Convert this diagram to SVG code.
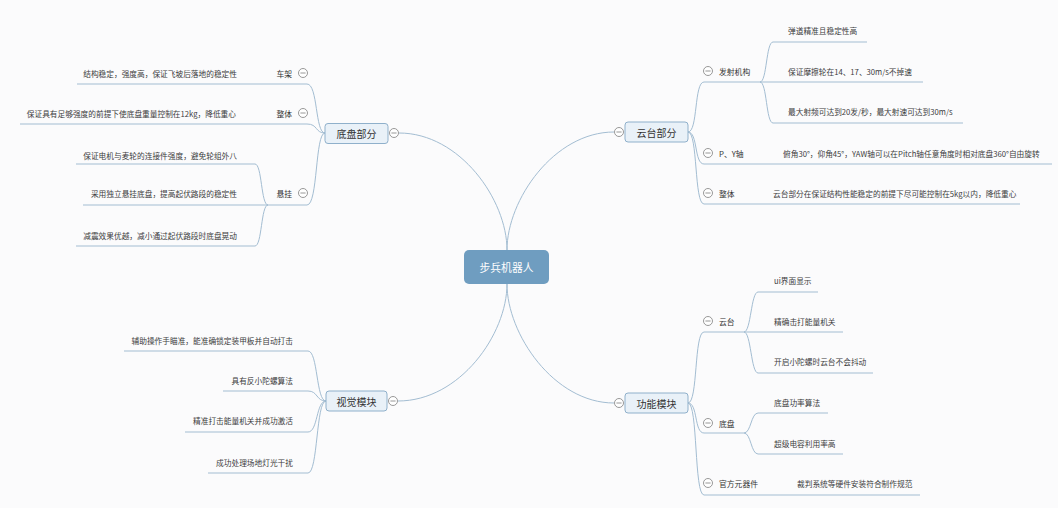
<svg xmlns="http://www.w3.org/2000/svg" xmlns:xlink="http://www.w3.org/1999/xlink" width="1058" height="508" viewBox="0 0 1058 508">
  <style>
    .ln { fill: none; stroke: #a3bdd2; stroke-width: 1; }
    .t { font-family: "Noto Sans CJK SC", "Noto Sans", sans-serif; font-size: 7.7px; fill: #3c3c3c; dominant-baseline: central; }
    .sub { font-size: 7.8px; fill: #333; }
    .end { text-anchor: end; }
    .main { font-size: 10px; text-anchor: middle; fill: #333; }
    .root { font-size: 10.8px; text-anchor: middle; fill: #ffffff; }
    .box { fill: #e9f1f8; stroke: #8fb0cb; stroke-width: 1; }
    .rootbox { fill: #6f9dc0; }
    .fold-c { fill: #ffffff; stroke: #8c8c8c; stroke-width: 0.9; }
    .fold-m { stroke: #8c8c8c; stroke-width: 0.9; }
  </style>
  <defs>
    <g id="fold">
      <circle class="fold-c" cx="0" cy="0" r="4.5"/>
      <line class="fold-m" x1="-2.6" y1="0" x2="2.6" y2="0"/>
    </g>
  </defs>

  <rect x="0" y="0" width="1058" height="508" fill="#fbfbfc"/>

  <!-- connectors -->
  <g id="connectors">
    <!-- root to main topics -->
    <path class="ln" d="M 507 250 C 507 200, 460 133, 399 133"/>
    <path class="ln" d="M 507 250 C 507 200, 554 132, 614 132"/>
    <path class="ln" d="M 507 284 C 507 334, 460 401, 398 401"/>
    <path class="ln" d="M 507 284 C 507 334, 554 403, 614 403"/>

    <!-- 底盘部分 branches -->
    <path class="ln" d="M 325 133 C 315 133, 318 84, 307 84 H 77"/>
    <path class="ln" d="M 325 133 C 315 133, 318 124, 307 124 H 20"/>
    <path class="ln" d="M 325 133 C 315 133, 318 205, 307 205 H 83"/>
    <path class="ln" d="M 268 205 C 261 205, 262 164, 255 164 H 76"/>
    <path class="ln" d="M 268 205 C 261 205, 262 246, 255 246 H 76"/>

    <!-- 云台部分 branches -->
    <path class="ln" d="M 688 132 C 698 132, 694 82, 704 82 H 760"/>
    <path class="ln" d="M 760 82 C 767 82, 766 42, 773 42 H 867"/>
    <path class="ln" d="M 760 82 H 923"/>
    <path class="ln" d="M 760 82 C 767 82, 766 123, 773 123 H 963"/>
    <path class="ln" d="M 688 132 C 698 132, 694 164, 704 164 H 1052"/>
    <path class="ln" d="M 688 132 C 698 132, 694 204, 704 204 H 1020"/>

    <!-- 视觉模块 branches -->
    <path class="ln" d="M 326 401 C 316 401, 318 351, 308 351 H 124"/>
    <path class="ln" d="M 326 401 C 316 401, 318 391, 308 391 H 223"/>
    <path class="ln" d="M 326 401 C 316 401, 318 432, 308 432 H 185"/>
    <path class="ln" d="M 326 401 C 316 401, 318 473, 308 473 H 208"/>

    <!-- 功能模块 branches -->
    <path class="ln" d="M 688 403 C 698 403, 694 332, 704 332 H 744"/>
    <path class="ln" d="M 744 332 C 751 332, 751 292, 758 292 H 818"/>
    <path class="ln" d="M 744 332 H 843"/>
    <path class="ln" d="M 744 332 C 751 332, 751 373, 758 373 H 873"/>
    <path class="ln" d="M 688 403 C 698 403, 694 433, 704 433 H 744"/>
    <path class="ln" d="M 744 433 C 751 433, 751 413, 758 413 H 828"/>
    <path class="ln" d="M 744 433 C 751 433, 751 454, 758 454 H 843"/>
    <path class="ln" d="M 688 403 C 698 403, 694 495, 704 495 H 920"/>
  </g>

  <!-- root -->
  <g id="root">
    <rect class="rootbox" x="464" y="250" width="85" height="34" rx="5"/>
    <text class="t root" x="506.5" y="267">步兵机器人</text>
  </g>

  <!-- 底盘部分 -->
  <g id="chassis">
    <rect class="box" x="325" y="123.5" width="63" height="20" rx="3"/>
    <text class="t main" x="356.5" y="133.5">底盘部分</text>
    <use xlink:href="#fold" x="394" y="133"/>
  </g>
  <g id="chassis-frame">
    <text class="t sub end" x="292" y="73">车架</text>
    <use xlink:href="#fold" x="303" y="73"/>
    <text class="t end" x="237" y="73">结构稳定，强度高，保证飞坡后落地的稳定性</text>
  </g>
  <g id="chassis-whole">
    <text class="t sub end" x="292" y="113">整体</text>
    <use xlink:href="#fold" x="303" y="113"/>
    <text class="t end" x="236" y="113">保证具有足够强度的前提下使底盘重量控制在12kg，降低重心</text>
  </g>
  <g id="chassis-suspension">
    <text class="t sub end" x="292" y="193">悬挂</text>
    <use xlink:href="#fold" x="303" y="193"/>
    <text class="t end" x="237" y="155">保证电机与麦轮的连接件强度，避免轮组外八</text>
    <text class="t end" x="237" y="193">采用独立悬挂底盘，提高起伏路段的稳定性</text>
    <text class="t end" x="237" y="235">减震效果优越，减小通过起伏路段时底盘晃动</text>
  </g>

  <!-- 云台部分 -->
  <g id="gimbal">
    <rect class="box" x="625" y="122" width="63" height="20" rx="3"/>
    <text class="t main" x="656.5" y="132">云台部分</text>
    <use xlink:href="#fold" x="619" y="132"/>
  </g>
  <g id="gimbal-shooter">
    <use xlink:href="#fold" x="708" y="71"/>
    <text class="t sub" x="719" y="71">发射机构</text>
    <text class="t" x="788" y="30">弹道精准且稳定性高</text>
    <text class="t" x="788" y="71">保证摩擦轮在14、17、30m/s不掉速</text>
    <text class="t" x="788" y="111">最大射频可达到20发/秒，最大射速可达到30m/s</text>
  </g>
  <g id="gimbal-axes">
    <use xlink:href="#fold" x="708" y="153"/>
    <text class="t sub" x="719" y="153">P、Y轴</text>
    <text class="t" x="783" y="153">俯角30°，仰角45°，YAW轴可以在Pitch轴任意角度时相对底盘360°自由旋转</text>
  </g>
  <g id="gimbal-whole">
    <use xlink:href="#fold" x="708" y="193"/>
    <text class="t sub" x="719" y="193">整体</text>
    <text class="t" x="773" y="193">云台部分在保证结构性能稳定的前提下尽可能控制在5kg以内，降低重心</text>
  </g>

  <!-- 视觉模块 -->
  <g id="vision">
    <rect class="box" x="326" y="391" width="61" height="20" rx="3"/>
    <text class="t main" x="356.5" y="401">视觉模块</text>
    <use xlink:href="#fold" x="393" y="401"/>
    <text class="t end" x="293" y="340">辅助操作手瞄准，能准确锁定装甲板并自动打击</text>
    <text class="t end" x="293" y="380">具有反小陀螺算法</text>
    <text class="t end" x="293" y="420">精准打击能量机关并成功激活</text>
    <text class="t end" x="293" y="462">成功处理场地灯光干扰</text>
  </g>

  <!-- 功能模块 -->
  <g id="function">
    <rect class="box" x="625" y="393" width="63" height="20" rx="3"/>
    <text class="t main" x="656.5" y="403">功能模块</text>
    <use xlink:href="#fold" x="619" y="403"/>
  </g>
  <g id="function-gimbal">
    <use xlink:href="#fold" x="708" y="321"/>
    <text class="t sub" x="719" y="321">云台</text>
    <text class="t" x="774" y="280">ui界面显示</text>
    <text class="t" x="774" y="321">精确击打能量机关</text>
    <text class="t" x="774" y="361">开启小陀螺时云台不会抖动</text>
  </g>
  <g id="function-chassis">
    <use xlink:href="#fold" x="708" y="423"/>
    <text class="t sub" x="719" y="423">底盘</text>
    <text class="t" x="774" y="402">底盘功率算法</text>
    <text class="t" x="774" y="443">超级电容利用率高</text>
  </g>
  <g id="function-official">
    <use xlink:href="#fold" x="708" y="483"/>
    <text class="t sub" x="719" y="483">官方元器件</text>
    <text class="t" x="797" y="483">裁判系统等硬件安装符合制作规范</text>
  </g>
</svg>
